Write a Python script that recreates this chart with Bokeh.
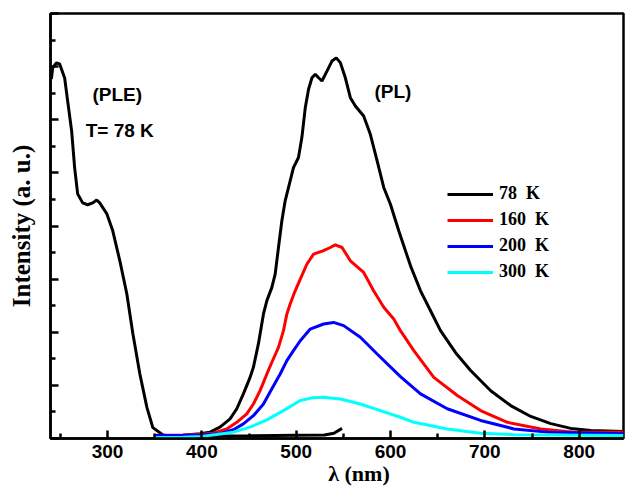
from bokeh.plotting import figure
from bokeh.models import Legend, LegendItem, Label, FixedTicker, Range1d
from bokeh.embed import file_html
from bokeh.resources import INLINE

# ---- data ----
ple_x = [240.4, 241.8, 245.7, 249.2, 254.5, 257.7, 261.9, 265.1, 268.3, 273.6, 278.9, 284.3,
         288.5, 291.7, 299.2, 305.5, 313.0, 320.4, 326.8, 334.2, 341.7, 348.0, 358.7, 369.3,
         385, 400, 450, 500, 530, 540, 548.6]
ple_y = [13.53, 13.95, 14.14, 14.10, 13.57, 12.7, 11.58, 10.19, 9.21, 8.87, 8.80, 8.87,
         8.98, 8.87, 8.46, 7.82, 6.69, 5.45, 3.95, 2.44, 1.17, 0.41, 0.13, 0.08,
         0.08, 0.09, 0.10, 0.12, 0.13, 0.20, 0.38]

pl78_x = [350, 380, 398, 408.6, 419.2, 429.9, 437, 444, 451.1, 454.6, 459.9, 465.3, 468.9,
          474.2, 477.7, 481.2, 484.8, 488.3, 493.6, 497.1, 502.4, 506, 509.6, 513.1, 516.7,
          520.2, 523.7, 527.3, 532.6, 537.9, 542.5, 546.8, 552.1, 557.4, 562.7, 571.5, 578.6,
          585.8, 592.8, 599.9, 608.7, 621.2, 631.8, 642.4, 653, 669, 684.9, 706.2, 727.4,
          748.7, 769.9, 791.2, 812.4, 847]
pl78_y = [0.10, 0.12, 0.18, 0.24, 0.43, 0.74, 1.12, 1.68, 2.30, 2.68, 3.56, 4.69, 5.19,
          5.69, 6.19, 7.19, 8.20, 8.95, 9.70, 10.20, 10.58, 11.33, 12.45, 13.15, 13.58,
          13.71, 13.58, 13.46, 13.83, 14.21, 14.33, 14.15, 13.58, 12.83, 12.52, 12.14, 11.45,
          10.45, 9.45, 8.82, 7.82, 6.50, 5.56, 4.81, 4.06, 3.23, 2.56, 1.80, 1.24,
          0.83, 0.56, 0.38, 0.30, 0.26]

pl160_x = [350, 380, 400, 412.1, 426.4, 437, 447.6, 454.6, 461.7, 468.9, 474.2, 481.2, 486.5,
           490.1, 493.6, 498.9, 504.3, 511.4, 518.4, 529, 536.1, 541.4, 548.6, 557.4, 571.5,
           582.1, 592.8, 603.4, 610.5, 624.7, 645.9, 670.8, 695.5, 723.9, 759.3, 794.7, 847]
pl160_y = [0.12, 0.13, 0.16, 0.20, 0.36, 0.61, 0.93, 1.30, 1.80, 2.43, 2.87, 3.43, 4.06,
           4.69, 5.06, 5.56, 6.00, 6.57, 6.94, 7.07, 7.19, 7.29, 7.19, 6.69, 6.25,
           5.56, 4.94, 4.50, 4.06, 3.31, 2.30, 1.62, 1.05, 0.61, 0.36, 0.24, 0.24]

pl200_x = [350, 380, 400, 419.2, 433.4, 444, 454.6, 465.3, 474.2, 483, 490.1, 497.1, 504.3,
           514.9, 529, 539.6, 550.3, 568, 585.8, 610.5, 631.8, 660.1, 695.5, 730.9, 766.4, 847]
pl200_y = [0.11, 0.11, 0.13, 0.18, 0.33, 0.55, 0.86, 1.30, 1.87, 2.43, 2.93, 3.31, 3.68,
           4.12, 4.31, 4.37, 4.25, 3.81, 3.18, 2.33, 1.68, 1.12, 0.68, 0.36, 0.24, 0.18]

pl300_x = [350, 380, 400, 415.7, 433.4, 451.1, 468.9, 486.5, 504.3, 517, 529, 546.8, 568,
           589.3, 610.5, 624.7, 660.1, 695.5, 730.9, 847]
pl300_y = [0.04, 0.05, 0.08, 0.15, 0.24, 0.43, 0.70, 1.05, 1.43, 1.53, 1.55, 1.49, 1.30,
           1.05, 0.80, 0.61, 0.36, 0.20, 0.14, 0.11]

x_major = [300, 400, 500, 600, 700, 800]
x_minor = [250, 350, 450, 550, 650, 750, 850]
y_major = [0, 2, 4, 6, 8, 10, 12, 14, 16]
y_minor = [1, 3, 5, 7, 9, 11, 13, 15]
legend_labels = ["78  K", "160  K", "200  K", "300  K"]

# ---- figure ----
p = figure(width=625, height=493, output_backend="svg", toolbar_location=None,
           x_range=Range1d(239.5, 847), y_range=Range1d(0, 16),
           min_border_left=50, min_border_right=2, min_border_top=13, min_border_bottom=55)
p.grid.visible = False
p.outline_line_color = "black"
p.outline_line_width = 2.5
p.background_fill_color = "white"
p.border_fill_color = "white"

xa = p.xaxis[0]
xa.ticker = FixedTicker(ticks=x_major, minor_ticks=x_minor)
ya = p.yaxis[0]
ya.ticker = FixedTicker(ticks=y_major, minor_ticks=y_minor)
for ax in (xa, ya):
    ax.axis_line_width = 2.5
    ax.major_tick_line_width = 2.5
    ax.minor_tick_line_width = 2.5
    ax.major_tick_in = 8
    ax.major_tick_out = 0
    ax.minor_tick_in = 5
    ax.minor_tick_out = 0
    ax.axis_label_text_font = "Liberation Serif"
    ax.axis_label_text_font_style = "bold"
    ax.axis_label_text_color = "black"

xa.major_label_text_font = "Liberation Sans"
xa.major_label_text_font_style = "bold"
xa.major_label_text_font_size = "19px"
xa.major_label_text_color = "black"
xa.major_label_standoff = 6
# leading no-break spaces shift the centred title right, as in the reference
xa.axis_label = "\u00a0" * 8 + "λ (nm)"
xa.axis_label_text_font_size = "22px"
xa.axis_label_standoff = 0

ya.major_label_overrides = {v: "" for v in y_major}
ya.major_label_standoff = 0
ya.axis_label = "Intensity (a. u.)"
ya.axis_label_text_font_size = "25px"
ya.axis_label_standoff = 16

r_ple = p.line(ple_x, ple_y, line_color="black", line_width=3)
r78 = p.line(pl78_x, pl78_y, line_color="black", line_width=3)
r160 = p.line(pl160_x, pl160_y, line_color="#ff0000", line_width=3)
r200 = p.line(pl200_x, pl200_y, line_color="#0000ff", line_width=3)
r300 = p.line(pl300_x, pl300_y, line_color="#00ffff", line_width=3)

legend = Legend(items=[LegendItem(label=legend_labels[0], renderers=[r78]),
                       LegendItem(label=legend_labels[1], renderers=[r160]),
                       LegendItem(label=legend_labels[2], renderers=[r200]),
                       LegendItem(label=legend_labels[3], renderers=[r300])],
                location=(397, 156), padding=0, margin=0, spacing=5,
                glyph_width=46, glyph_height=20, label_height=20, label_standoff=6,
                border_line_alpha=0, background_fill_alpha=0,
                label_text_font="Liberation Serif", label_text_font_style="bold",
                label_text_font_size="18px", label_text_color="black")
p.add_layout(legend)

lbl_font = dict(text_font="Liberation Sans", text_font_style="bold", text_font_size="19px",
                text_color="black", text_baseline="middle", text_align="left")
p.add_layout(Label(x=284, y=12.96, text="(PLE)", **lbl_font))
p.add_layout(Label(x=276.8, y=11.59, text="T= 78 K", **lbl_font))
p.add_layout(Label(x=582.9, y=13.07, text="(PL)", **lbl_font))

open("out.html", "w").write(file_html(p, INLINE))
